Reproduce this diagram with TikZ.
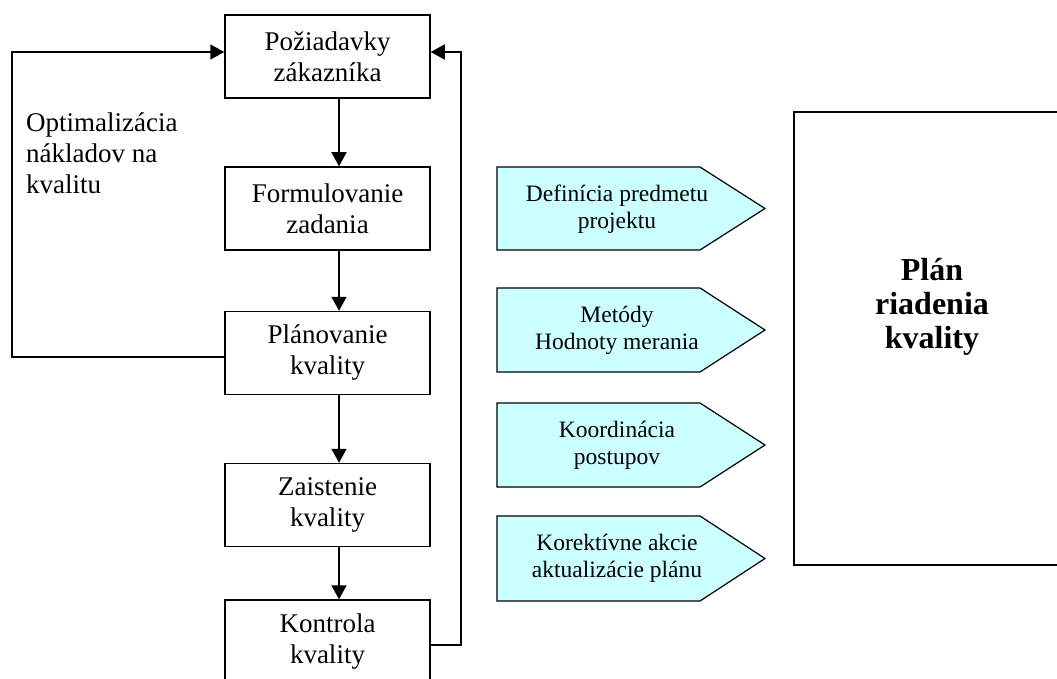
\documentclass[tikz,border=0pt]{standalone}
\usepackage{fontspec}
\setmainfont{Liberation Serif}
\usetikzlibrary{arrows.meta}
\definecolor{paleCyan}{HTML}{CCFFFF}
\begin{document}
\begin{tikzpicture}[x=1pt,y=-1pt,
  stage/.style={draw,line width=1.5pt,minimum width=205pt,minimum height=83pt,
    inner sep=0pt,align=center,font=\fontsize{27}{31}\selectfont},
  flow/.style={line width=1.5pt,-{Triangle[width=15pt,length=14pt]}},
  tag/.style={draw,line width=1.2pt,fill=paleCyan},
  tagtext/.style={align=center,inner sep=0pt,font=\fontsize{23.5}{27}\selectfont}]
\useasboundingbox (0,0) rectangle (1057,679);
\clip (0,0) rectangle (1057,679);

% main sequence of stages
\node[stage] (req)  at (327.5,56.5) {Požiadavky\\zákazníka};
\node[stage] (form) at (327.5,208.5) {Formulovanie\\zadania};
\node[stage] (plan) at (327.5,353) {Plánovanie\\kvality};
\node[stage] (ens)  at (327.5,505) {Zaistenie\\kvality};
\node[stage] (ctrl) at (327.5,641.5) {Kontrola\\kvality};

\draw[flow] (req.south -| 339,0)  -- (form.north -| 339,0);
\draw[flow] (form.south -| 339,0) -- (plan.north -| 339,0);
\draw[flow] (plan.south -| 339,0) -- (ens.north -| 339,0);
\draw[flow] (ens.south -| 339,0)  -- (ctrl.north -| 339,0);

% feedback loops
\coordinate (lt) at (12,52);
\coordinate (rt) at (461,52);
\draw[flow] (plan.west |- 0,357) -| (lt) -- (req.west |- lt);
\draw[flow] (ctrl.east |- 0,645) -| (rt) -- (req.east |- rt);

\node[anchor=west,align=left,inner sep=0pt,font=\fontsize{27}{31}\selectfont]
  (opt) at (26,153) {Optimalizácia\\nákladov na\\kvalitu};

% inputs to the plan
\draw[tag] (497,167) -- (700,167) -- (765,208.5) -- (700,250) -- (497,250) -- cycle;
\node[tagtext] (t1) at (617,209) {Definícia predmetu\\projektu};
\draw[tag] (497,288) -- (700,288) -- (765,330) -- (700,372) -- (497,372) -- cycle;
\node[tagtext] (t2) at (617,330) {Metódy\\Hodnoty merania};
\draw[tag] (497,403) -- (700,403) -- (765,445) -- (700,487) -- (497,487) -- cycle;
\node[tagtext] (t3) at (617,445) {Koordinácia\\postupov};
\draw[tag] (497,516) -- (700,516) -- (765,558.5) -- (700,601) -- (497,601) -- cycle;
\node[tagtext] (t4) at (617,558.5) {Korektívne akcie\\aktualizácie plánu};

% quality management plan
\draw[line width=1.5pt] (794,112) rectangle (1070,565);
\node[align=center,inner sep=0pt,font=\fontsize{32}{34}\selectfont\bfseries]
  (qmp) at (932,307) {Plán\\riadenia\\kvality};
\end{tikzpicture}
\end{document}
